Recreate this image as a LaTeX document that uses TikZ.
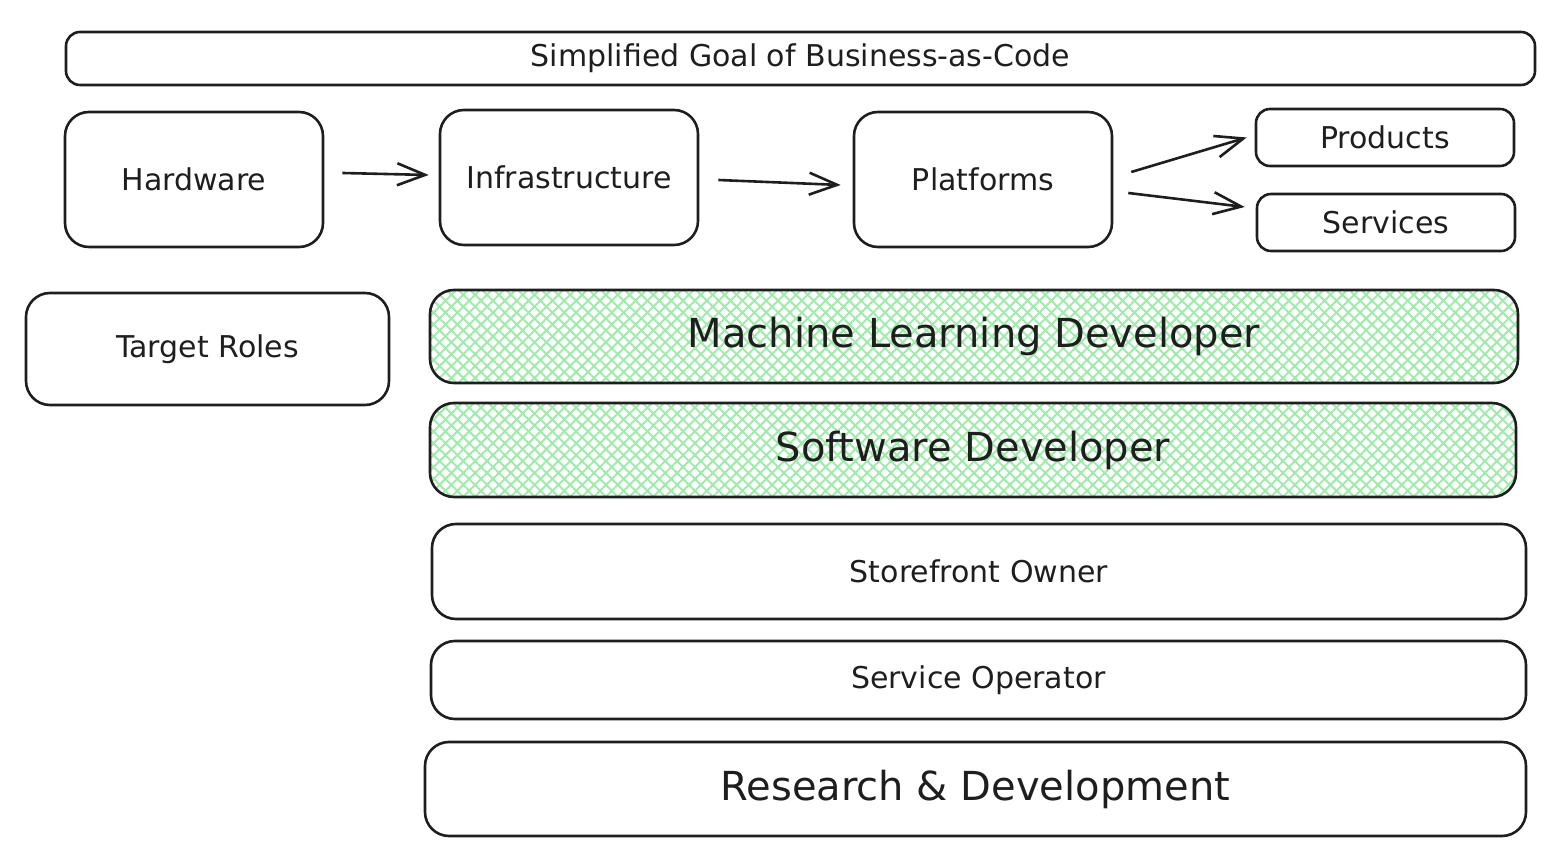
\documentclass[tikz,border=0pt]{standalone}
\usepackage{fontspec}
\setmainfont{DejaVu Sans}
\usetikzlibrary{arrows.meta,patterns.meta}
\definecolor{ink}{HTML}{1E1E1E}
\definecolor{hatch}{RGB}{160,234,172}
\tikzset{
  box/.style={draw=ink,line width=1.3pt,rounded corners=12pt,inner sep=0pt,text=ink,font=\fontsize{15}{18}\selectfont},
  smallbox/.style={box,rounded corners=7pt},
  bigtext/.style={font=\fontsize{20}{24}\selectfont},
  hatched/.style={preaction={pattern={Lines[angle=45,distance=4.2pt,line width=1pt]},pattern color=hatch},
                  preaction={pattern={Lines[angle=-45,distance=4.2pt,line width=1pt]},pattern color=hatch}},
  arr/.style={draw=ink,line width=1.3pt,-{Straight Barb[length=14pt,width=11pt,line width=1.3pt]}}
}
\begin{document}
\begin{tikzpicture}[x=0.5pt,y=-0.5pt]
\useasboundingbox (0,0) rectangle (1560,865);
\node[box,rounded corners=7pt,minimum width=734.5pt,minimum height=26.5pt] (title) at (800.5,58.5) {Simplified Goal of Business-as-Code};
\node[box,minimum width=129pt,minimum height=67.5pt] (hw) at (194,179.5) {Hardware};
\node[box,minimum width=129pt,minimum height=67.5pt] (infra) at (569,177.5) {Infrastructure};
\node[box,minimum width=129pt,minimum height=67.5pt] (plat) at (983,179.5) {Platforms};
\node[smallbox,minimum width=129pt,minimum height=28.5pt] (prod) at (1385,137.5) {Products};
\node[smallbox,minimum width=129pt,minimum height=28.5pt] (serv) at (1386,222.5) {Services};
\node[box,minimum width=181.5pt,minimum height=56pt] (roles) at (207.5,349) {Target Roles};
\node[box,hatched,bigtext,minimum width=544pt,minimum height=46.5pt] (ml) at (974,336.5) {Machine Learning Developer};
\node[box,hatched,bigtext,minimum width=543pt,minimum height=47pt] (sw) at (973,450) {Software Developer};
\node[box,minimum width=547pt,minimum height=47.5pt] (store) at (979,571.5) {Storefront Owner};
\node[box,minimum width=547.5pt,minimum height=39pt] (op) at (978.5,680) {Service Operator};
\node[box,bigtext,minimum width=550.5pt,minimum height=47pt] (rd) at (975.5,789) {Research \& Development};
\draw[arr] ([xshift=9pt,yshift=3.25pt]hw.east) -- ([xshift=-5pt,yshift=1.25pt]infra.west);
\draw[arr] ([xshift=9.5pt,yshift=-1.25pt]infra.east) -- ([xshift=-6pt,yshift=-2.75pt]plat.west);
\draw[arr] ([xshift=9pt,yshift=3.75pt]plat.east) -- ([xshift=-4pt]prod.west);
\draw[arr] ([xshift=7.5pt,yshift=-6.75pt]plat.east) -- ([xshift=-5.5pt,yshift=7.75pt]serv.west);
\end{tikzpicture}
\end{document}
